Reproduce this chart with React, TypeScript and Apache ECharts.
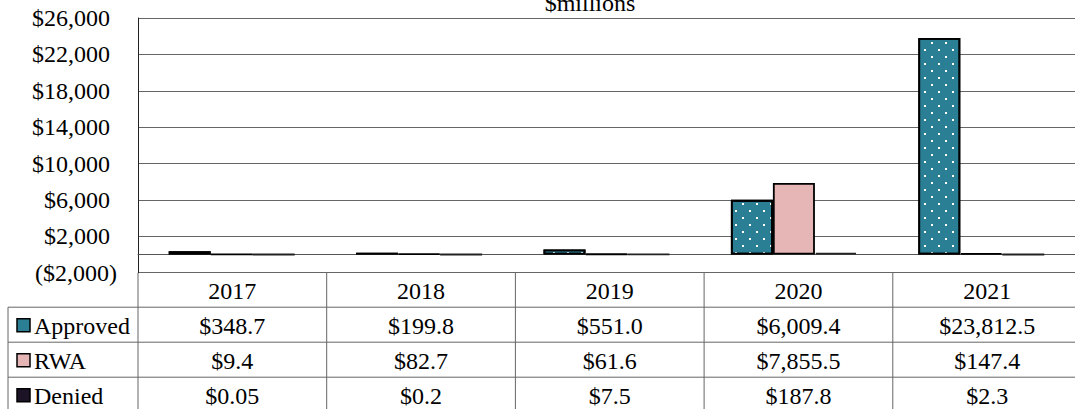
import React, { useEffect, useRef } from "react";
import * as echarts from "echarts";

const years = ["2017", "2018", "2019", "2020", "2021"];
const approved = [348.7, 199.8, 551.0, 6009.4, 23812.5];
const rwa = [9.4, 82.7, 61.6, 7855.5, 147.4];
const denied = [0.05, 0.2, 7.5, 187.8, 2.3];
const seriesNames = ["Approved", "RWA", "Denied"];
const yMin = -2000;
const yMax = 26000;
const yStep = 4000;

const FONT = "Times New Roman, Liberation Serif, serif";
const TEAL = "#2b7f95";
const PINK = "#e6b6b6";
const DARK = "#1c1326";

const nf = new Intl.NumberFormat("en-US", { minimumFractionDigits: 1, maximumFractionDigits: 2 });
const money = (v: number) => "$" + nf.format(v);
const axisFmt = new Intl.NumberFormat("en-US", { maximumFractionDigits: 0 });

export default function App() {
  const ref = useRef<HTMLDivElement>(null);
  useEffect(() => {
    if (!ref.current) return;
    const chart = echarts.init(ref.current, undefined, { renderer: "svg" });
    const L = 138, T = 18, W = 943.5, H = 254.7;
    const B = T + H;
    const colW = W / years.length;
    const headerB = 307.2;
    const rowH = 35;
    const rowTops = [headerB, headerB + rowH, headerB + 2 * rowH];
    const tableBottom = headerB + 3 * rowH;
    const lineColor = "#666";
    const fs = 24;
    const txt = (text: string, x: number, y: number, align: string, size = fs) => ({
      type: "text", x, y,
      style: { text, fontFamily: FONT, fontSize: size, fill: "#000", align, verticalAlign: "middle" },
    });

    const graphics: any[] = [];
    graphics.push(txt("$millions", 590, 3, "center"));
    rowTops.forEach((y) => {
      graphics.push({ type: "line", shape: { x1: 8, y1: y, x2: L + W, y2: y }, style: { stroke: lineColor, lineWidth: 1 } });
    });
    graphics.push({ type: "line", shape: { x1: 8, y1: tableBottom, x2: L + W, y2: tableBottom }, style: { stroke: lineColor, lineWidth: 1 } });
    graphics.push({ type: "line", shape: { x1: 8, y1: headerB, x2: 8, y2: tableBottom }, style: { stroke: lineColor, lineWidth: 1 } });
    for (let i = 0; i <= years.length; i++) {
      const x = L + i * colW;
      graphics.push({ type: "line", shape: { x1: x, y1: B, x2: x, y2: tableBottom }, style: { stroke: lineColor, lineWidth: 1 } });
    }
    years.forEach((yr, i) => {
      graphics.push(txt(yr, L + (i + 0.5) * colW, (B + headerB) / 2 + 1, "center"));
    });
    const rows = [approved, rwa, denied];
    const keyColors = [TEAL, PINK, DARK];
    rows.forEach((vals, r) => {
      const cy = rowTops[r] + rowH / 2 + 1;
      graphics.push({
        type: "rect", shape: { x: 17, y: cy - 7, width: 13, height: 13 },
        style: { fill: keyColors[r], stroke: "#000", lineWidth: 1.5 },
      });
      graphics.push(txt(seriesNames[r], 34, cy, "left"));
      vals.forEach((v, i) => {
        graphics.push(txt(money(v), L + (i + 0.5) * colW, cy, "center"));
      });
    });

    const barBase = { type: "bar", barWidth: 42, barGap: "0%" };
    chart.setOption({
      animation: false,
      textStyle: { fontFamily: FONT },
      grid: { left: L, top: T, width: W, height: H, containLabel: false },
      xAxis: {
        type: "category",
        data: years,
        axisLine: { show: true, onZero: true, lineStyle: { color: "#555", width: 1 } },
        axisTick: { show: false },
        axisLabel: { show: false },
        splitLine: { show: false },
      },
      yAxis: {
        type: "value",
        min: yMin,
        max: yMax,
        interval: yStep,
        axisLine: { show: true, lineStyle: { color: "#222", width: 1 } },
        axisTick: { show: false },
        splitLine: { show: true, lineStyle: { color: "#666", width: 1 } },
        axisLabel: {
          margin: 21,
          fontFamily: FONT,
          fontSize: fs,
          color: "#000",
          formatter: (v: number) =>
            v < 0 ? `{n|($${axisFmt.format(-v)})}` : `{n|$${axisFmt.format(v)}}{p| }`,
          rich: {
            n: { fontFamily: FONT, fontSize: fs, color: "#000" },
            p: { fontFamily: FONT, fontSize: fs, width: 7 },
          },
        },
      },
      series: [
        {
          ...barBase,
          name: seriesNames[0],
          data: approved,
          itemStyle: {
            color: TEAL,
            borderColor: "#000",
            borderWidth: 1.8,
            decal: {
              symbol: "rect",
              symbolSize: 1,
              color: "#ffffff",
              dashArrayX: [[2, 12], [0, 7, 2, 5]],
              dashArrayY: [2, 5],
              rotation: 0,
            },
          },
        },
        {
          ...barBase,
          name: seriesNames[1],
          data: rwa,
          itemStyle: { color: PINK, borderColor: "#000", borderWidth: 1.8 },
        },
        {
          ...barBase,
          name: seriesNames[2],
          data: denied,
          itemStyle: { color: DARK, borderColor: "#222", borderWidth: 1.8 },
        },
      ],
      graphic: graphics,
    });
    return () => chart.dispose();
  }, []);
  return (
    <div
      ref={ref}
      style={{ position: "absolute", left: 0, top: 0, width: 1075, height: 409, background: "#fff" }}
    />
  );
}
